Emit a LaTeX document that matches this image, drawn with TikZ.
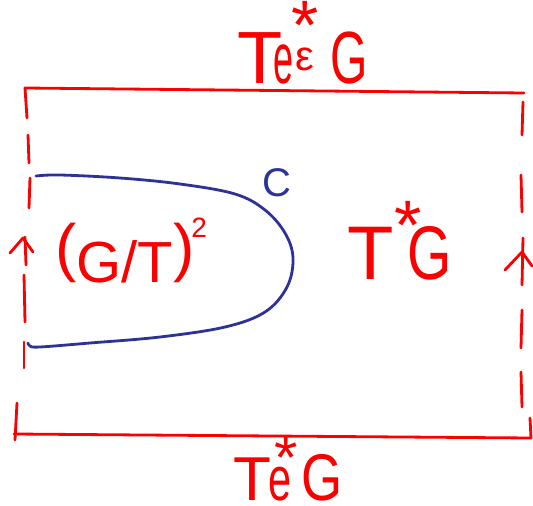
\documentclass[tikz,border=0pt]{standalone}
\usepackage{fontspec}
\setmainfont{Liberation Sans}
\definecolor{pen}{RGB}{250,0,0}
\definecolor{ink}{RGB}{45,50,150}
\newcommand{\fs}[1]{\fontsize{#1}{#1}\selectfont}
\newcommand{\sx}[2]{\scalebox{#1}[1]{#2}}
\begin{document}
\begin{tikzpicture}[x=1pt,y=-1pt,
  redline/.style={pen, line width=2.8pt, line cap=round, line join=round},
  blueline/.style={ink, line width=2.8pt, line cap=round, line join=round},
  lbl/.style={text=pen, inner sep=0pt, anchor=base west}]
\useasboundingbox (0,0) rectangle (533,506);

% box: top and bottom edges with first/last dashes
\draw[redline] (27,118) -- (25,88) -- (524,93);
\draw[redline] (17,403) -- (15,440);
\draw[redline] (14,434) -- (531,438) -- (530,418);
% left dashed side
\draw[redline] (28,135) -- (29,163);
\draw[redline] (30,178) -- (29,208);
\draw[redline] (25,237) -- (26,265);
\draw[redline] (10,253) -- (23,238) -- (33,252);
\draw[redline] (24,275) -- (25,322);
\draw[redline] (24,342) -- (24,368);
% right dashed side
\draw[redline] (523,102) -- (522,135);
\draw[redline] (521,175) -- (522,212);
\draw[redline] (523,238) -- (522,285);
\draw[redline] (505,270) -- (522,252) -- (532,266);
\draw[redline] (522,310) -- (521,348);
\draw[redline] (521,372) -- (522,407);

% blue curve C
\draw[blueline] plot[smooth, tension=0.6] coordinates {(36,176) (60,175) (120,178) (180,184) (235,194) (265,210) (285,233) (293,258) (287,287) (265,312) (225,327) (160,337) (90,343) (40,347) (30,346) (28,343)};
\node[text=ink, inner sep=0pt, font=\fs{40}] (c) at (277,183) {C};

% labels
\node[lbl] (top) at (237.5,83) {\fs{74}T\kern-9.5pt\sx{0.5}{\fs{72}e}\rlap{\kern-1.5pt\raisebox{34pt}{\fs{70}*}}\kern2pt\raisebox{13pt}{\fs{42}ε}\kern16pt\sx{0.65}{G}};
\node[lbl] (mid) at (347,279) {\fs{76}T\kern1pt\raisebox{30pt}{\fs{70}*}\kern-14pt\sx{0.75}{G}};
\node[lbl] (left) at (55,282) {\raisebox{13pt}{\fs{64}(}\fs{58}G/T\raisebox{13pt}{\fs{64})}\kern-3pt\raisebox{45pt}{\fs{28}2}};
\node[lbl] (bot) at (233,500) {\fs{62}T\kern-3pt\sx{0.67}{e}\rlap{\kern-16.5pt\raisebox{22pt}{\fs{60}*}}\kern10pt\sx{0.8}{\fs{66}G}};
\end{tikzpicture}
\end{document}
